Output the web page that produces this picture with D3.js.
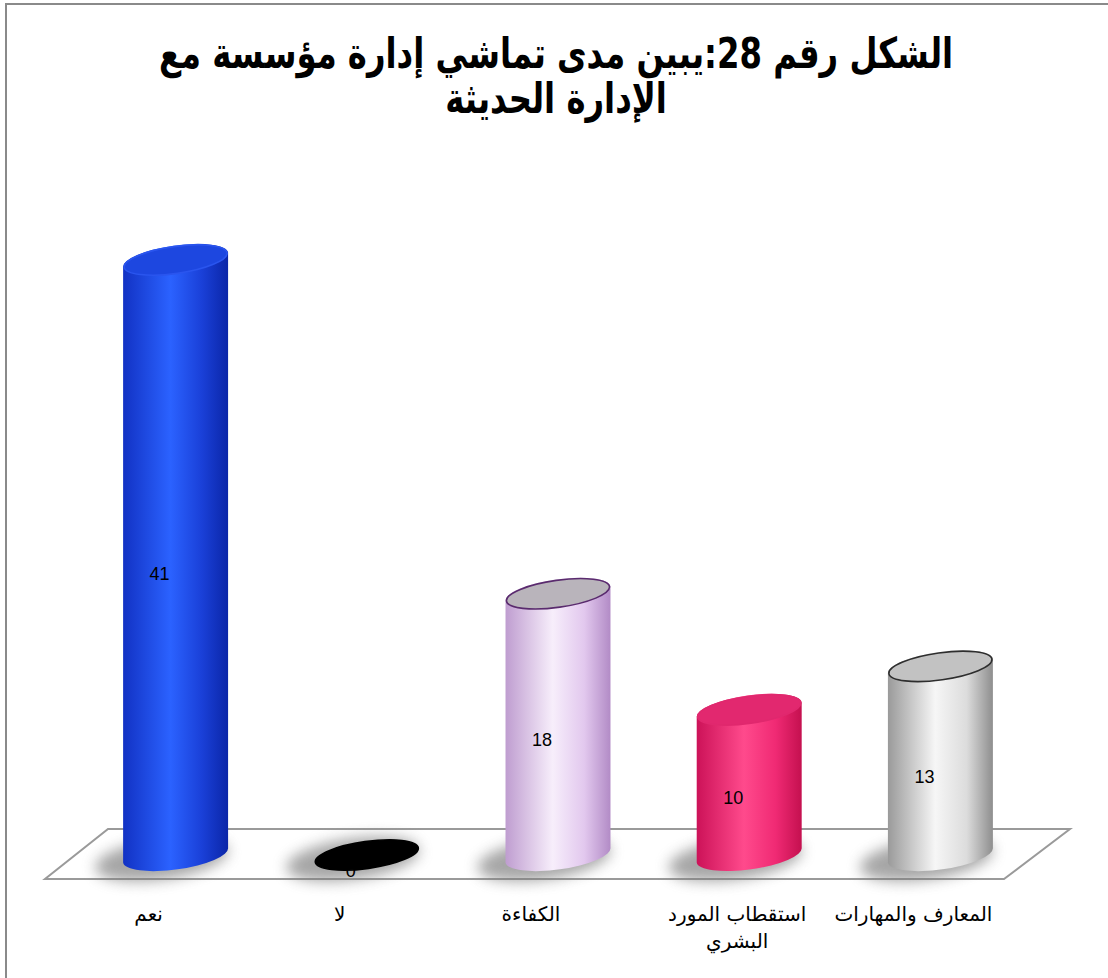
<!DOCTYPE html>
<html lang="ar">
<head>
<meta charset="utf-8">
<title>الشكل رقم 28</title>
<script src="https://cdn.jsdelivr.net/npm/d3@7/dist/d3.min.js"></script>
<style>
  html, body { margin: 0; padding: 0; background: #fff; }
  svg { display: block; }
</style>
</head>
<body>
<svg id="chart" width="1108" height="978"></svg>
<script>
// Chart data
const titleLines = ["الشكل رقم 28:يبين مدى تماشي إدارة مؤسسة مع", "الإدارة الحديثة"];
const categories = ["نعم", "لا", "الكفاءة", "استقطاب المورد البشري", "المعارف والمهارات"];
const categoryLines = [["نعم"], ["لا"], ["الكفاءة"], ["استقطاب المورد", "البشري"], ["المعارف والمهارات"]];
const values = [41, 0, 18, 10, 13];

// Per-bar palette: body gradient stops, top face fill, top face outline
const bodyStops = [
  ["#1232c4", "#2b62ff", "#1a40d8", "#0b26a8"],
  ["#000000", "#000000", "#000000", "#000000"],
  ["#bf9dd0", "#f7eefb", "#e2c8ee", "#b28bc6"],
  ["#cc1258", "#ff4a8c", "#f02a74", "#c4104f"],
  ["#9a9a9a", "#f6f6f6", "#dcdcdc", "#8e8e8e"]
];
const topFills = ["#1d47e0", "#000000", "#b9b4bb", "#e2286f", "#c2c2c2"];
const topStrokes = ["#2a55ee", "#000000", "#5a2b6e", "#e0286e", "#2e2e2e"];

const svg = d3.select("#chart");
const defs = svg.append("defs");

// Outer frame (runs past the right and bottom edges)
svg.append("rect")
  .attr("x", 6).attr("y", 4).attr("width", 1200).attr("height", 1100)
  .attr("fill", "none").attr("stroke", "#8a8a8a").attr("stroke-width", 2);

// Title: heavy condensed Arabic lettering
const title = svg.append("g").attr("transform", "translate(556,0) scale(0.95,1.25)");
const titleText = title.append("text")
  .attr("text-anchor", "middle")
  .attr("direction", "rtl")
  .style("font-family", "'DejaVu Sans', 'Liberation Sans', sans-serif")
  .style("font-weight", "bold")
  .style("font-size", "34px")
  .attr("fill", "#000");
titleLines.forEach((t, i) => {
  titleText.append("tspan").attr("x", 0).attr("y", (68 + i * 45) / 1.25).text(t);
});

// Scales
const x = d3.scalePoint().domain(categories).range([80, 1036]).padding(0.5);
const baseY = 855;
const y = d3.scaleLinear().domain([0, 41]).range([baseY, 260]);
const rx = 53, ry = 14.5, rot = -8;
const rad = rot * Math.PI / 180;
const dx = rx * Math.cos(rad), dy = rx * Math.sin(rad);

// Floor plane
const floor = [[108, 829], [1070, 829], [1004, 879], [45, 879]];
svg.append("path")
  .attr("d", d3.line()(floor) + "Z")
  .attr("fill", "#fff").attr("stroke", "#9a9a9a").attr("stroke-width", 2);

// Filters and gradients
const blur = defs.append("filter").attr("id", "shadowBlur")
  .attr("x", "-50%").attr("y", "-100%").attr("width", "200%").attr("height", "300%");
blur.append("feGaussianBlur").attr("stdDeviation", 7);

categories.forEach((c, i) => {
  const g = defs.append("linearGradient").attr("id", "body" + i)
    .attr("x1", "0%").attr("x2", "100%").attr("y1", "0%").attr("y2", "0%");
  const s = bodyStops[i];
  [[0, s[0]], [0.45, s[1]], [0.75, s[2]], [1, s[3]]].forEach(([o, col]) =>
    g.append("stop").attr("offset", o).attr("stop-color", col));
});

// Shadows on the floor
const shadowLayer = svg.append("g");
categories.forEach((c, i) => {
  shadowLayer.append("ellipse")
    .attr("cx", x(c) - 14).attr("cy", baseY + 4)
    .attr("rx", rx + 14).attr("ry", ry + 6)
    .attr("transform", `rotate(${rot} ${x(c) - 14} ${baseY + 4})`)
    .attr("fill", "#777").attr("opacity", 0.65)
    .attr("filter", "url(#shadowBlur)");
});

// Cylinder bodies
const bodyLayer = svg.append("g");
categories.forEach((c, i) => {
  if (values[i] <= 0) return;
  const cx = x(c), ty = y(values[i]);
  const d = [
    `M${cx - dx},${ty - dy}`,
    `L${cx - dx},${baseY - dy}`,
    `A${rx},${ry} ${rot} 0 0 ${cx + dx},${baseY + dy}`,
    `L${cx + dx},${ty + dy}`,
    `A${rx},${ry} ${rot} 0 0 ${cx - dx},${ty - dy}`,
    "Z"
  ].join(" ");
  bodyLayer.append("path").attr("d", d).attr("fill", `url(#body${i})`);
});

// Value labels
const labelLayer = svg.append("g")
  .style("font-family", "'Liberation Sans', 'DejaVu Sans', sans-serif")
  .style("font-size", "18px").attr("fill", "#000");
categories.forEach((c, i) => {
  const mid = (y(values[i]) + baseY) / 2;
  labelLayer.append("text")
    .attr("x", x(c) - 16).attr("y", mid + 22)
    .attr("text-anchor", "middle")
    .text(values[i]);
});

// Top faces
const topLayer = svg.append("g");
categories.forEach((c, i) => {
  const cx = x(c), ty = y(values[i]);
  topLayer.append("ellipse")
    .attr("cx", cx).attr("cy", ty)
    .attr("rx", rx - 1).attr("ry", ry - 1)
    .attr("transform", `rotate(${rot} ${cx} ${ty})`)
    .attr("fill", topFills[i])
    .attr("stroke", topStrokes[i]).attr("stroke-width", 1.6);
});

// Category labels
const catLayer = svg.append("g")
  .style("font-family", "'DejaVu Sans', 'Liberation Sans', sans-serif")
  .style("font-size", "20px").attr("fill", "#000");
categories.forEach((c, i) => {
  const lines = categoryLines[i];
  const cx = x(c) - 27 + (lines.length > 1 ? 15 : 0);
  const t = catLayer.append("text").attr("text-anchor", "middle").attr("direction", "rtl");
  lines.forEach((ln, k) => {
    t.append("tspan").attr("x", cx).attr("y", 921 + k * 27).text(ln);
  });
});
</script>
</body>
</html>
